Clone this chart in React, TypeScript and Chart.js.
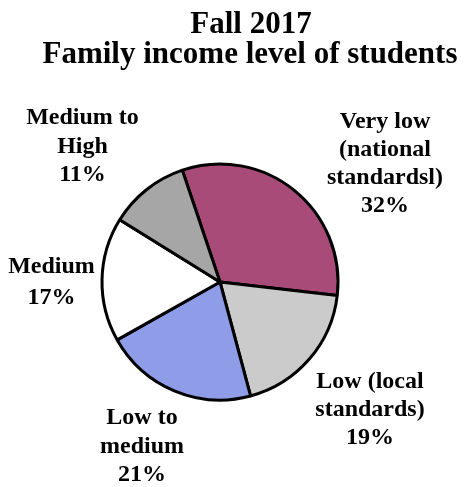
import React, { useEffect, useRef } from "react";
import { Chart, registerables } from "chart.js";

Chart.register(...registerables);

// ---- data ----
const categories = [
  "Very low (national standardsl)",
  "Low (local standards)",
  "Low to medium",
  "Medium",
  "Medium to High",
];
const shares = [32, 19, 21, 17, 11];
const labelLines = [
  ["Very low", "(national", "standardsl)"],
  ["Low (local", "standards)"],
  ["Low to", "medium"],
  ["Medium"],
  ["Medium to", "High"],
];
const titleLines = ["Fall 2017", "Family income level of students"];

// ---- styling / layout ----
const sliceColors = ["#A94B79", "#CBCBCB", "#8F9DE8", "#FFFFFF", "#A6A6A6"];
const labelAnchors = [
  { x: 385, y: 122, gap: 28 },
  { x: 370, y: 382, gap: 28 },
  { x: 142, y: 418, gap: 28.5 },
  { x: 51.5, y: 267, gap: 30.5 },
  { x: 82.5, y: 118, gap: 28.5 },
];
const FONT = '"Liberation Serif", "Times New Roman", serif';

const textPlugin = {
  id: "textPlugin",
  afterDraw(chart: any) {
    const ctx = chart.ctx;
    ctx.save();
    ctx.fillStyle = "#000";
    ctx.textAlign = "center";
    ctx.textBaseline = "alphabetic";
    ctx.font = `bold 31px ${FONT}`;
    ctx.fillText(titleLines[0], 251, 33);
    ctx.fillText(titleLines[1], 250, 63);

    ctx.font = `bold 24px ${FONT}`;
    ctx.textBaseline = "middle";
    const data = chart.data.datasets[0].data as number[];
    labelLines.forEach((lines, i) => {
      const a = labelAnchors[i];
      const all = [...lines, `${data[i]}%`];
      all.forEach((t, j) => {
        ctx.fillText(t, a.x, a.y + j * a.gap);
      });
    });
    ctx.restore();
  },
};

export default function App() {
  const ref = useRef<HTMLCanvasElement | null>(null);
  useEffect(() => {
    if (!ref.current) return;
    const chart = new Chart(ref.current, {
      type: "pie",
      data: {
        labels: categories,
        datasets: [
          {
            data: shares,
            backgroundColor: sliceColors,
            borderColor: "#000",
            borderWidth: 3,
          },
        ],
      },
      options: {
        animation: false,
        responsive: false,
        rotation: -18.6,
        radius: 118,
        layout: { padding: { left: 90, right: 120, top: 150, bottom: 73 } },
        plugins: {
          legend: { display: false },
          tooltip: { enabled: false },
          title: { display: false },
        },
      },
      plugins: [textPlugin],
    });
    return () => chart.destroy();
  }, []);
  return (
    <div style={{ position: "fixed", left: 0, top: 0, width: 470, height: 487, background: "#fff" }}>
      <canvas ref={ref} width={470} height={487} style={{ width: 470, height: 487 }} />
    </div>
  );
}
